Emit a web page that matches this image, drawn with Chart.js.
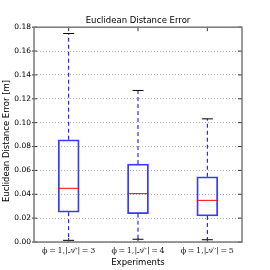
<!DOCTYPE html>
<html>
<head>
<meta charset="utf-8">
<script src="https://cdn.jsdelivr.net/npm/chart.js@4"></script>
<style>
  html, body { margin: 0; padding: 0; background: #fff; }
  #box { width: 270px; height: 270px; }
</style>
</head>
<body>
<div id="box"><canvas id="grafico"></canvas></div>
<script>
// dados
const categorias = [
  '\u03D5\u2009=\u20091,|\uD835\uDC9C\u2032|\u2009=\u20093',
  '\u03D5\u2009=\u20091,|\uD835\uDC9C\u2032|\u2009=\u20094',
  '\u03D5\u2009=\u20091,|\uD835\uDC9C\u2032|\u2009=\u20095'
]
const bigodeMin = [0.0014, 0.0023, 0.0019]
const quartil1 = [0.0250, 0.0237, 0.0218]
const mediana = [0.0450, 0.0405, 0.0349]
const quartil3 = [0.0857, 0.0653, 0.0547]
const bigodeMax = [0.1747, 0.1270, 0.1032]
const yMin = 0
const yMax = 0.18
const yPasso = 0.02

const caixas = categorias.map((c, i) => [quartil1[i], quartil3[i]])

// desenha bigodes, medianas, moldura e marcas
const pluginBoxplot = {
  id: 'boxplot',
  afterDatasetsDraw(chart) {
    const ctx = chart.ctx
    const x = chart.scales.x
    const y = chart.scales.y
    const area = chart.chartArea
    const meta = chart.getDatasetMeta(0)
    ctx.save()
    categorias.forEach((c, i) => {
      const cx = x.getPixelForValue(i)
      const meia = meta.data[i].width / 2
      // bigodes tracejados
      ctx.strokeStyle = '#0000ff'
      ctx.lineWidth = 1
      ctx.setLineDash([4, 3])
      ctx.beginPath()
      ctx.moveTo(cx, y.getPixelForValue(quartil3[i]))
      ctx.lineTo(cx, y.getPixelForValue(bigodeMax[i]))
      ctx.moveTo(cx, y.getPixelForValue(quartil1[i]))
      ctx.lineTo(cx, y.getPixelForValue(bigodeMin[i]))
      ctx.stroke()
      ctx.setLineDash([])
      // tampas
      ctx.strokeStyle = '#000'
      ctx.beginPath()
      ctx.moveTo(cx - 5.5, y.getPixelForValue(bigodeMax[i]))
      ctx.lineTo(cx + 5.5, y.getPixelForValue(bigodeMax[i]))
      ctx.moveTo(cx - 5.5, y.getPixelForValue(bigodeMin[i]))
      ctx.lineTo(cx + 5.5, y.getPixelForValue(bigodeMin[i]))
      ctx.stroke()
      // mediana
      ctx.strokeStyle = '#ff0000'
      ctx.beginPath()
      ctx.moveTo(cx - meia, y.getPixelForValue(mediana[i]))
      ctx.lineTo(cx + meia, y.getPixelForValue(mediana[i]))
      ctx.stroke()
      // marcas em cima e embaixo
      ctx.strokeStyle = '#333'
      ctx.beginPath()
      ctx.moveTo(cx, area.top)
      ctx.lineTo(cx, area.top + 4)
      ctx.moveTo(cx, area.bottom)
      ctx.lineTo(cx, area.bottom - 4)
      ctx.stroke()
    })
    // marcas nos lados
    ctx.strokeStyle = '#333'
    ctx.beginPath()
    for (let v = yMin; v <= yMax + 1e-9; v += yPasso) {
      const py = y.getPixelForValue(v)
      ctx.moveTo(area.left - 2, py)
      ctx.lineTo(area.left + 3, py)
      ctx.moveTo(area.right, py)
      ctx.lineTo(area.right - 4, py)
    }
    ctx.stroke()
    // moldura
    ctx.strokeStyle = '#7a7a7a'
    ctx.lineWidth = 1.5
    ctx.strokeRect(area.left, area.top, area.right - area.left, area.bottom - area.top)
    ctx.restore()
  }
}

const grafico = new Chart(document.getElementById('grafico'), {
  type: 'bar',
  data: {
    labels: categorias,
    datasets: [{
      data: caixas,
      backgroundColor: 'rgba(0,0,0,0)',
      borderColor: '#3a3aff',
      borderWidth: 1.2,
      borderSkipped: false,
      barThickness: 21
    }]
  },
  options: {
    responsive: true,
    maintainAspectRatio: false,
    animation: false,
    layout: { padding: { top: 0, right: 0, bottom: 0, left: 6 } },
    plugins: {
      legend: { display: false },
      tooltip: { enabled: false },
      title: {
        display: true,
        text: 'Euclidean Distance Error',
        color: '#000',
        font: { family: 'DejaVu Sans', size: 8.5, weight: 'normal' },
        padding: { top: 16, bottom: 1 }
      }
    },
    scales: {
      x: {
        grid: { display: false, drawTicks: false },
        border: { display: false },
        ticks: {
          color: '#222',
          padding: 4,
          maxRotation: 0,
          font: { family: 'DejaVu Serif', size: 8 }
        },
        title: {
          display: true,
          text: 'Experiments',
          color: '#000',
          font: { family: 'DejaVu Sans', size: 8.5 },
          padding: { top: 0, bottom: 2 }
        },
        afterFit(escala) { escala.height = 28 }
      },
      y: {
        min: yMin,
        max: yMax,
        grid: { color: '#999', lineWidth: 0.8, drawTicks: false },
        border: { display: false, dash: [1, 2] },
        ticks: {
          stepSize: yPasso,
          color: '#000',
          padding: 3,
          font: { family: 'DejaVu Sans', size: 7.5 },
          callback: v => v.toFixed(2)
        },
        title: {
          display: true,
          text: 'Euclidean Distance Error [m]\u2003\u2002',
          color: '#000',
          font: { family: 'DejaVu Sans', size: 8.5 },
          padding: { top: -4, bottom: 0 }
        },
        afterFit(escala) { escala.width = 28 }
      },
      direita: {
        position: 'right',
        min: yMin,
        max: yMax,
        grid: { display: false, drawTicks: false },
        border: { display: false },
        ticks: { display: false },
        afterFit(escala) { escala.width = 28 }
      }
    }
  },
  plugins: [pluginBoxplot]
})
</script>
</body>
</html>
